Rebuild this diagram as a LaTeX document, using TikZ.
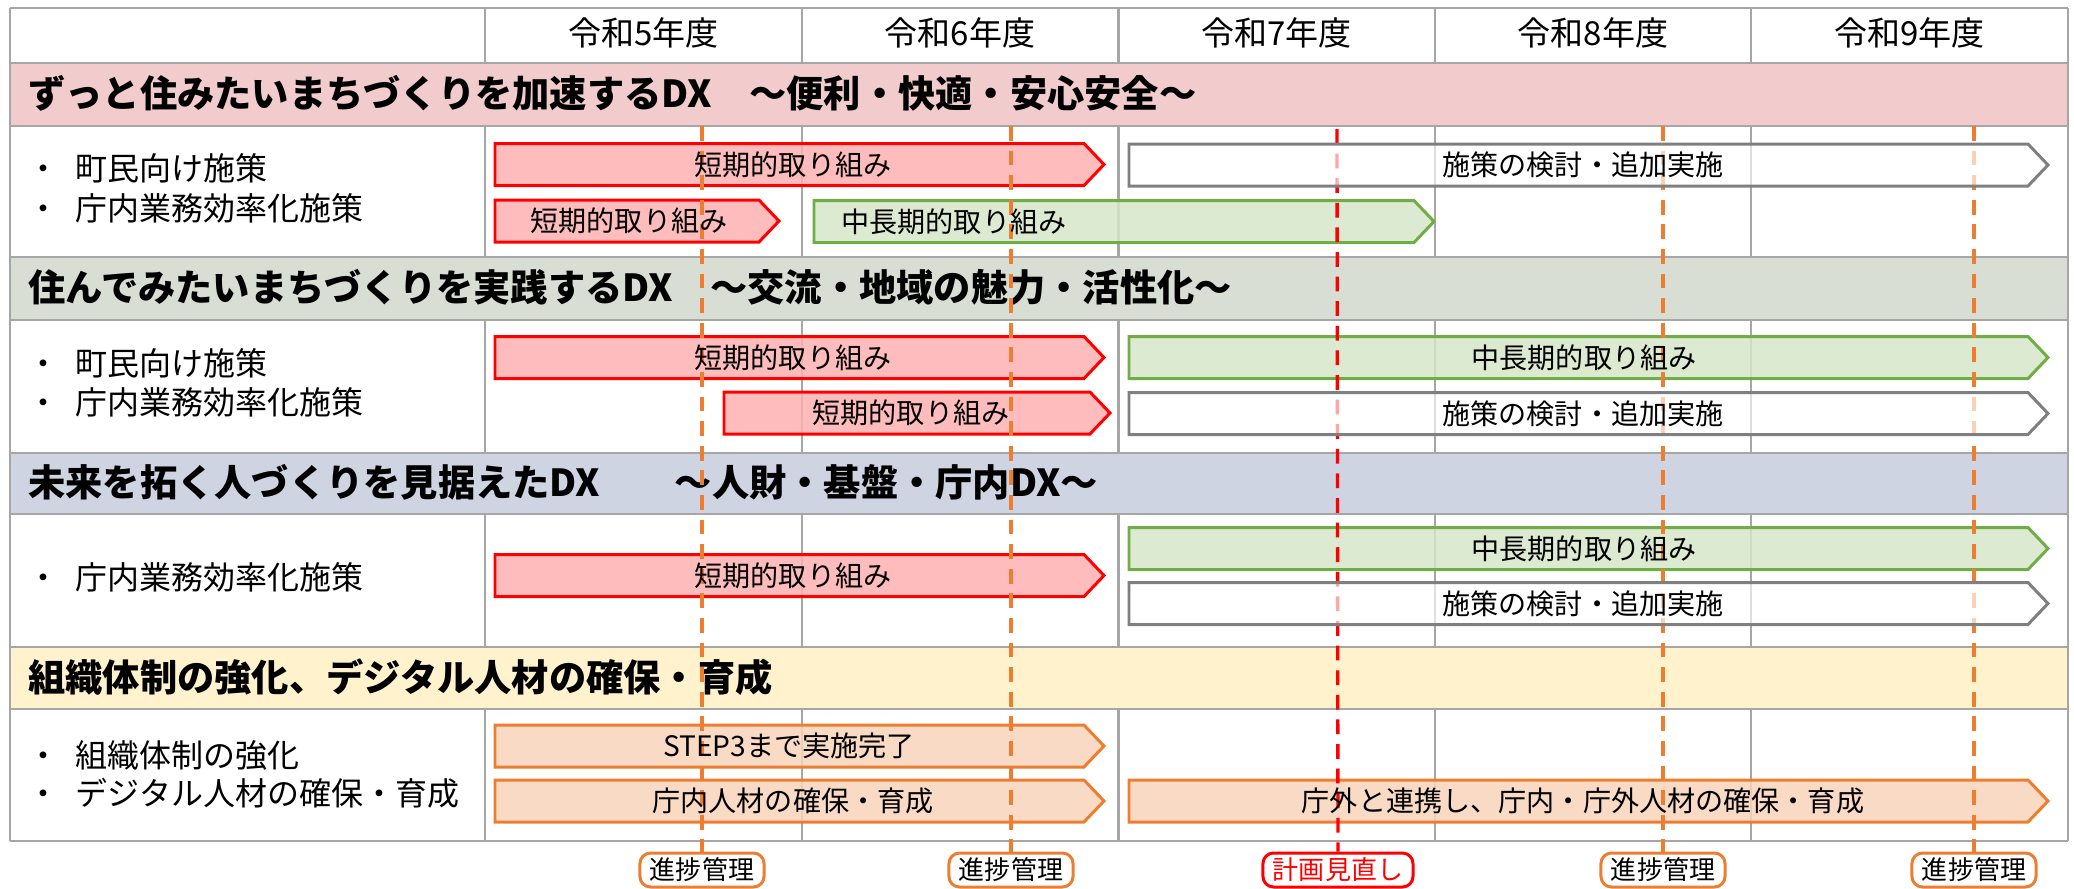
\documentclass[tikz,border=0pt]{standalone}
\usepackage{fontspec}
\setmainfont{Noto Sans CJK JP}
\usetikzlibrary{positioning}

\definecolor{gridgray}{HTML}{A6A6A6}
\definecolor{bandpink}{HTML}{F2CBCC}
\definecolor{bandsage}{HTML}{D8DED3}
\definecolor{bandblue}{HTML}{CED4E2}
\definecolor{bandcream}{HTML}{FFF2CC}
\definecolor{redfill}{HTML}{FFB0B0}
\definecolor{greenfill}{HTML}{D6E6C9}
\definecolor{greenline}{HTML}{70AD47}
\definecolor{orangefill}{HTML}{F8D3BA}
\definecolor{orangeline}{HTML}{ED7D31}
\definecolor{barline}{HTML}{7F7F7F}

\tikzset{
  gridline/.style={draw=gridgray, line width=0.6pt},
  bandtitle/.style={anchor=west, font=\fontsize{10.6}{12}\selectfont\bfseries},
  rowtitle/.style={anchor=west, font=\fontsize{9.1}{11}\selectfont},
  yeartitle/.style={font=\fontsize{9.4}{11}\selectfont},
  bartext/.style={font=\fontsize{8}{10}\selectfont},
  redbar/.style={draw=red, line width=0.85pt, fill=redfill, fill opacity=0.85},
  greenbar/.style={draw=greenline, line width=0.85pt, fill=greenfill, fill opacity=0.85},
  whitebar/.style={draw=barline, line width=0.85pt, fill=white, fill opacity=0.65},
  orangebar/.style={draw=orangeline, line width=0.85pt, fill=orangefill, fill opacity=0.85},
  checkpoint/.style={draw=orangeline, fill=white, rounded corners=3pt, line width=0.85pt,
    minimum height=0.34cm, inner xsep=0.1cm, inner ysep=0pt, font=\fontsize{7.4}{9}\selectfont},
  review/.style={checkpoint, draw=red, text=red},
  orangedash/.style={draw=orangeline, line width=0.95pt, dash pattern=on 4.2pt off 2.8pt},
  reddash/.style={orangedash, draw=red},
}

% chevron bar: style, left, tip, middle y
\newcommand{\chevbar}[4]{%
  \draw[#1] (#2,{#4-0.21}) -- ({#3-0.2},{#4-0.21}) -- (#3,#4) -- ({#3-0.2},{#4+0.21}) -- (#2,{#4+0.21}) -- cycle;}

\begin{document}
\begin{tikzpicture}[y=-1cm]
  \useasboundingbox (0,0) rectangle (20.74,8.88);
  % bands
  \fill[bandpink] (0.10,0.63) rectangle (20.68,1.26);
  \fill[bandsage] (0.10,2.57) rectangle (20.68,3.20);
  \fill[bandblue] (0.10,4.53) rectangle (20.68,5.14);
  \fill[bandcream] (0.10,6.47) rectangle (20.68,7.09);
  % grid
  \foreach \y in {0.08,0.63,1.26,2.57,3.20,4.53,5.14,6.47,7.09,8.41}
    \draw[gridline] (0.10,\y) -- (20.68,\y);
  \draw[gridline] (0.10,0.08) -- (0.10,8.41);
  \draw[gridline] (20.68,0.08) -- (20.68,8.41);
  \foreach \a/\b in {0.08/0.63,1.26/2.57,3.20/4.53,5.14/6.47,7.09/8.41}
    \foreach \x in {4.85,8.02,11.185,14.35,17.51}
      \draw[gridline] (\x,\a) -- (\x,\b);

  % years
  \foreach \yr [count=\i] in {5,6,7,8,9}
    \node[yeartitle] (y\yr) at ({4.85+(\i-0.5)*3.166},0.33) {令和\yr 年度};

  % band titles
  \node[bandtitle] (b1) at (0.16,0.93) {ずっと住みたいまちづくりを加速するDX　～便利・快適・安心安全～};
  \node[bandtitle] (b2) at (0.16,2.87) {住んでみたいまちづくりを実践するDX　～交流・地域の魅力・活性化～};
  \node[bandtitle] (b3) at (0.16,4.82) {未来を拓く人づくりを見据えたDX　　～人財・基盤・庁内DX～};
  \node[bandtitle] (b4) at (0.16,6.77) {組織体制の強化、デジタル人材の確保・育成};

  % row titles
  \node[rowtitle] (r1a) at (0.155,1.68) {・\hspace{0.5em}町民向け施策};
  \node[rowtitle] (r1b) at (0.155,2.08) {・\hspace{0.5em}庁内業務効率化施策};
  \node[rowtitle] (r2a) at (0.155,3.63) {・\hspace{0.5em}町民向け施策};
  \node[rowtitle] (r2b) at (0.155,4.02) {・\hspace{0.5em}庁内業務効率化施策};
  \node[rowtitle] (r3a) at (0.155,5.77) {・\hspace{0.5em}庁内業務効率化施策};
  \node[rowtitle] (r4a) at (0.155,7.55) {・\hspace{0.5em}組織体制の強化};
  \node[rowtitle] (r4b) at (0.155,7.93) {・\hspace{0.5em}デジタル人材の確保・育成};

  % coloured bars
  \chevbar{redbar}{4.95}{11.04}{1.645}
  \chevbar{redbar}{4.95}{7.79}{2.21}
  \chevbar{greenbar}{8.14}{14.34}{2.215}
  \chevbar{redbar}{4.95}{11.04}{3.575}
  \chevbar{redbar}{7.24}{11.10}{4.13}
  \chevbar{greenbar}{11.29}{20.48}{3.575}
  \chevbar{redbar}{4.95}{11.04}{5.755}
  \chevbar{greenbar}{11.29}{20.48}{5.485}
  \chevbar{orangebar}{4.95}{11.04}{7.46}
  \chevbar{orangebar}{4.95}{11.04}{8.01}
  \chevbar{orangebar}{11.29}{20.48}{8.01}

  % milestones
  \node[checkpoint] (m5) at (7.02,8.70) {進捗管理};
  \node[checkpoint] (m6) at (10.11,8.70) {進捗管理};
  \node[review] (rv) at (13.38,8.70) {計画見直し};
  \node[checkpoint] (m8) at (16.63,8.70) {進捗管理};
  \node[checkpoint] (m9) at (19.74,8.70) {進捗管理};
  \foreach \n/\x in {m5/7.02,m6/10.11,m8/16.63,m9/19.74}
    \draw[orangedash] (\x,1.26) -- (\n.north);
  \draw[reddash] (13.37,1.29) -- (rv.north);

  % open bars
  \chevbar{whitebar}{11.29}{20.48}{1.65}
  \chevbar{whitebar}{11.29}{20.48}{4.135}
  \chevbar{whitebar}{11.29}{20.48}{6.035}

  % bar texts
  \node[bartext] (t1) at (7.93,1.645) {短期的取り組み};
  \node[bartext] (t2) at (6.29,2.21) {短期的取り組み};
  \node[bartext, anchor=west] (t3) at (8.29,2.215) {中長期的取り組み};
  \node[bartext] (t4) at (15.83,1.65) {施策の検討・追加実施};
  \node[bartext] (t5) at (7.93,3.575) {短期的取り組み};
  \node[bartext] (t6) at (9.11,4.13) {短期的取り組み};
  \node[bartext] (t7) at (15.84,3.575) {中長期的取り組み};
  \node[bartext] (t8) at (15.83,4.135) {施策の検討・追加実施};
  \node[bartext] (t9) at (7.93,5.755) {短期的取り組み};
  \node[bartext] (t10) at (15.84,5.485) {中長期的取り組み};
  \node[bartext] (t11) at (15.83,6.035) {施策の検討・追加実施};
  \node[bartext] (t12) at (7.89,7.46) {STEP3まで実施完了};
  \node[bartext] (t13) at (7.93,8.01) {庁内人材の確保・育成};
  \node[bartext] (t14) at (15.83,8.01) {庁外と連携し、庁内・庁外人材の確保・育成};
\end{tikzpicture}
\end{document}
